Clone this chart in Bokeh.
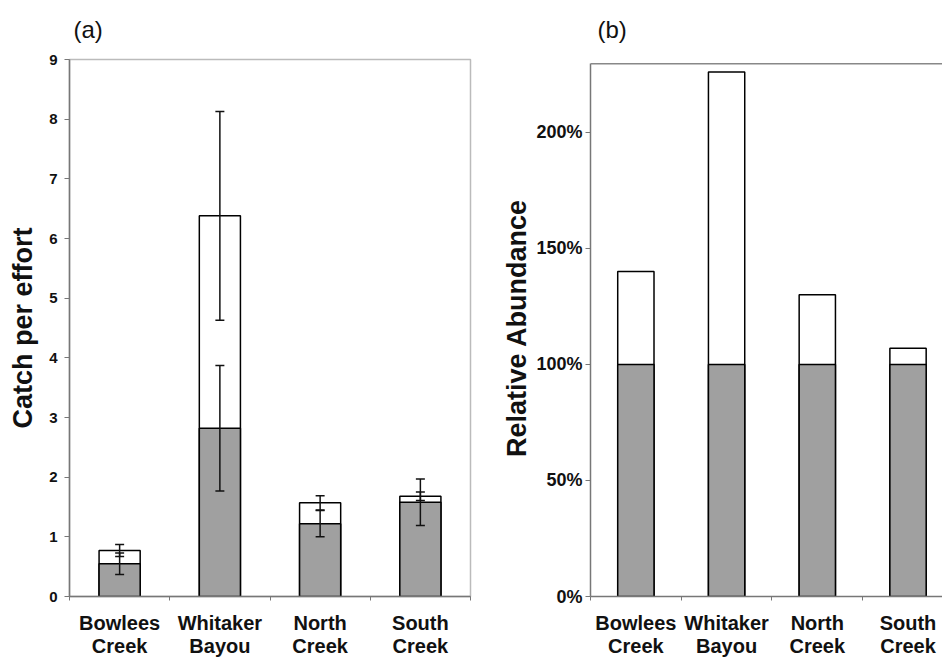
from bokeh.plotting import figure
from bokeh.models import (FixedTicker, Whisker, TeeHead, ColumnDataSource, Span, Range1d,
                          NumeralTickFormatter)
from bokeh.layouts import row
from bokeh.embed import file_html
from bokeh.resources import INLINE

sites = ["Bowlees\nCreek", "Whitaker\nBayou", "North\nCreek", "South\nCreek"]
cpue_gray = [0.55, 2.82, 1.22, 1.58]
cpue_total = [0.77, 6.38, 1.57, 1.68]
err_gray = [0.18, 1.05, 0.22, 0.39]
err_total = [0.10, 1.75, 0.12, 0.07]
rel_gray = [1.00, 1.00, 1.00, 1.00]
rel_total = [1.40, 2.26, 1.30, 1.07]

FONT = "Liberation Sans"
GRAY = "#a0a0a0"
AXIS = "#777777"

xc = [i + 0.5 for i in range(len(sites))]
overrides = {x: s for x, s in zip(xc, sites)}


def style(p, label_size, title_offset):
    p.xaxis.ticker = FixedTicker(ticks=xc, minor_ticks=list(range(len(sites) + 1)))
    p.xaxis.major_label_overrides = overrides
    p.xaxis.major_tick_line_color = None
    p.xaxis.major_tick_out = 4
    p.xaxis.minor_tick_line_color = AXIS
    p.xaxis.minor_tick_out = 4
    p.xaxis.minor_tick_in = 0
    p.xaxis.major_label_text_font = FONT
    p.xaxis.major_label_text_font_style = "bold"
    p.xaxis.major_label_text_font_size = "20px"
    p.xaxis.major_label_text_color = "#111111"
    p.xaxis.major_label_standoff = 11
    p.xaxis.major_label_text_line_height = 1.05
    for ax in (p.xaxis[0], p.yaxis[0]):
        ax.axis_line_color = AXIS
        ax.axis_line_width = 1.5
    p.yaxis.major_tick_line_color = AXIS
    p.yaxis.major_tick_out = 5
    p.yaxis.major_tick_in = 0
    p.yaxis.minor_tick_line_color = None
    p.yaxis.major_label_text_font = FONT
    p.yaxis.major_label_text_font_style = "bold"
    p.yaxis.major_label_text_font_size = label_size
    p.yaxis.major_label_text_color = "#111111"
    p.yaxis.axis_label_text_font = FONT
    p.yaxis.axis_label_text_font_style = "bold"
    p.yaxis.axis_label_text_color = "#111111"
    p.xgrid.grid_line_color = None
    p.ygrid.grid_line_color = None
    p.title.text_font = FONT
    p.title.text_font_style = "normal"
    p.title.text_font_size = "24px"
    p.title.text_color = "#111111"
    p.title.offset = title_offset
    p.title.vertical_align = "top"
    p.title.standoff = 29


# Panel (a)
pa = figure(width=472, height=659, output_backend="svg", toolbar_location=None, title="(a)",
            x_range=Range1d(0, 4), y_range=Range1d(0, 9),
            min_border_left=69, min_border_right=2, min_border_top=59, min_border_bottom=63)
pa.outline_line_color = "#bbbbbb"
pa.outline_line_width = 1.5
style(pa, "15px", 4)
pa.yaxis.ticker = FixedTicker(ticks=list(range(10)))
pa.yaxis.major_label_standoff = 7
pa.yaxis.axis_label = "Catch per effort"
pa.yaxis.axis_label_text_font_size = "27px"
pa.yaxis.axis_label_standoff = 8

pa.vbar(x=xc, bottom=0, top=cpue_total, width=0.41, fill_color="white", line_color="black", line_width=1.5)
pa.vbar(x=xc, bottom=0, top=cpue_gray, width=0.41, fill_color=GRAY, line_color="black", line_width=1.5)

for vals, errs in ((cpue_total, err_total), (cpue_gray, err_gray)):
    src = ColumnDataSource(dict(x=xc, lower=[v - e for v, e in zip(vals, errs)],
                                upper=[v + e for v, e in zip(vals, errs)]))
    w = Whisker(base="x", lower="lower", upper="upper", source=src, line_color="#111111", line_width=1.5,
                level="overlay",
                upper_head=TeeHead(size=9, line_color="#111111", line_width=1.5),
                lower_head=TeeHead(size=9, line_color="#111111", line_width=1.5))
    pa.add_layout(w)

# Panel (b)
B_TOP = 2.296
pb = figure(width=470, height=659, output_backend="svg", toolbar_location=None, title="(b)",
            x_range=Range1d(0, 3.88), y_range=Range1d(0, 2.314),
            min_border_left=118, min_border_right=0, min_border_top=59, min_border_bottom=63)
pb.outline_line_color = None
style(pb, "18px", 7)
pb.yaxis.ticker = FixedTicker(ticks=[0, 0.5, 1.0, 1.5, 2.0])
pb.yaxis.formatter = NumeralTickFormatter(format="0%")
pb.yaxis.bounds = (0, B_TOP)
pb.yaxis.major_label_standoff = 3
pb.yaxis.axis_label = "Relative Abundance"
pb.yaxis.axis_label_text_font_size = "27px"
pb.yaxis.axis_label_standoff = 1
pb.add_layout(Span(location=B_TOP, dimension="width", line_color="#888888", line_width=1.5))

pb.vbar(x=xc, bottom=0, top=rel_total, width=0.4, fill_color="white", line_color="black", line_width=1.5)
pb.vbar(x=xc, bottom=0, top=rel_gray, width=0.4, fill_color=GRAY, line_color="black", line_width=1.5)

layout = row(pa, pb)
open("out.html", "w").write(file_html(layout, INLINE))
